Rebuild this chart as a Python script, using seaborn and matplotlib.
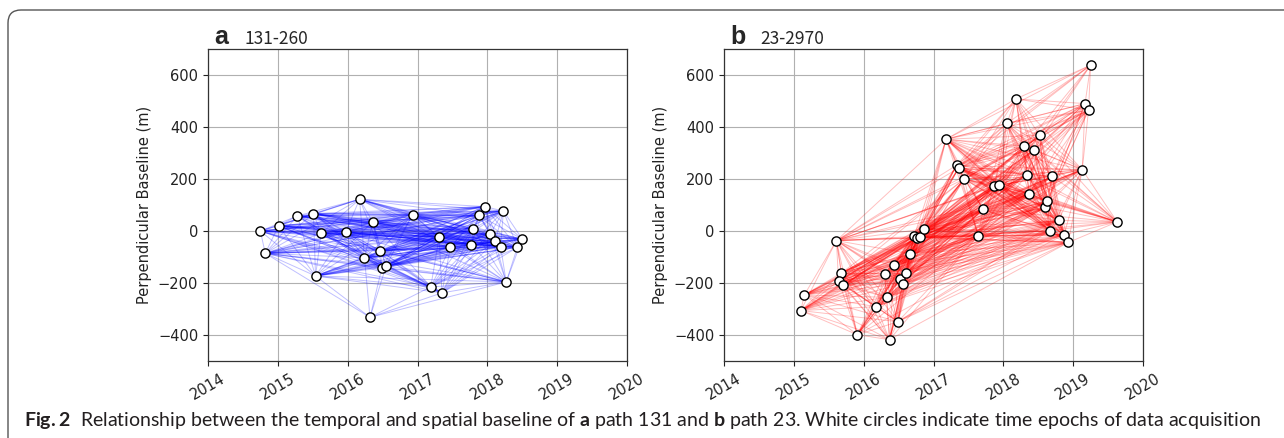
import numpy as np
import pandas as pd
import matplotlib
matplotlib.use("Agg")
import matplotlib.pyplot as plt
import seaborn as sns
from matplotlib.patches import FancyBboxPatch
from matplotlib.transforms import IdentityTransform

# --- acquisition epochs (decimal year, perpendicular baseline m) ---
a_year = [2014.75, 2014.82, 2015.01, 2015.28, 2015.51, 2015.62, 2015.54, 2015.97,
          2016.17, 2016.36, 2016.47, 2016.24, 2016.49, 2016.55, 2016.32, 2016.93,
          2017.31, 2017.47, 2017.19, 2017.35, 2017.77, 2017.80, 2017.88, 2017.96,
          2018.23, 2018.04, 2018.11, 2018.19, 2018.27, 2018.43, 2018.50]
a_bperp = [0, -86, 20, 58, 67, -9, -173, -5,
           122, 35, -76, -103, -142, -135, -332, 63,
           -23, -63, -215, -238, -53, 8, 60, 94,
           77, -12, -40, -60, -196, -63, -31]

b_year = [2015.10, 2015.15, 2015.61, 2015.68, 2015.64, 2015.71, 2015.91, 2016.18,
          2016.30, 2016.33, 2016.44, 2016.49, 2016.37, 2016.52, 2016.56, 2016.60,
          2016.67, 2016.72, 2016.76, 2016.80, 2016.87, 2017.18, 2017.33, 2017.36,
          2017.44, 2017.64, 2017.71, 2017.87, 2017.94, 2018.05, 2018.18, 2018.30,
          2018.44, 2018.52, 2018.34, 2018.37, 2018.60, 2018.63, 2018.70, 2018.67,
          2018.79, 2018.87, 2018.93, 2019.13, 2019.17, 2019.22, 2019.25, 2019.63]
b_bperp = [-306, -246, -37, -162, -192, -209, -399, -291,
           -164, -255, -129, -349, -418, -186, -203, -162,
           -87, -21, -27, -24, 8, 353, 253, 242,
           200, -18, 83, 173, 176, 414, 508, 326,
           313, 368, 217, 144, 91, 115, 210, 1,
           41, -14, -44, 236, 490, 465, 638, 35]

# network thresholds (max temporal / spatial baseline of a pair)
a_tmax, a_bmax = 3.5, 250
b_tmax, b_bmax = 2.8, 400

titles = [("a", "131-260"), ("b", "23-2970")]
caption = (r"$\mathbf{Fig. 2}$  Relationship between the temporal and spatial baseline of "
           r"$\mathbf{a}$ path 131 and $\mathbf{b}$ path 23. White circles indicate time "
           r"epochs of data acquisition")


def make_edges(years, bperp, tmax, bmax):
    rows = []
    k = 0
    n = len(years)
    for i in range(n):
        for j in range(i + 1, n):
            if abs(years[i] - years[j]) <= tmax and abs(bperp[i] - bperp[j]) <= bmax:
                rows.append((k, years[i], bperp[i]))
                rows.append((k, years[j], bperp[j]))
                k += 1
    return pd.DataFrame(rows, columns=["pair", "year", "bperp"])


sns.set_theme(style="ticks")
plt.rcParams["mathtext.fontset"] = "custom"
plt.rcParams["mathtext.rm"] = "Lato"
plt.rcParams["mathtext.bf"] = "Lato:bold"
plt.rcParams["font.family"] = ["DejaVu Sans"]

W, H = 1284, 438
fig = plt.figure(figsize=(W / 100, H / 100), dpi=100)

panels = [
    (a_year, a_bperp, a_tmax, a_bmax, "#0000ff", 208),
    (b_year, b_bperp, b_tmax, b_bmax, "#ff0000", 724),
]

for (years, bperp, tmax, bmax, col, left_px), (letter, sub) in zip(panels, titles):
    ax = fig.add_axes([left_px / W, (H - 361) / H, 419 / W, 312 / H])
    edges = make_edges(years, bperp, tmax, bmax)
    sns.lineplot(data=edges, x="year", y="bperp", units="pair", estimator=None,
                 sort=False, color=col, alpha=0.25, lw=0.7, ax=ax, zorder=2)
    pts = pd.DataFrame({"year": years, "bperp": bperp})
    sns.scatterplot(data=pts, x="year", y="bperp", s=44, color="white",
                    edgecolor="black", linewidth=1.0, ax=ax, zorder=3)
    ax.set_xlim(2014, 2020)
    ax.set_ylim(-500, 700)
    ax.set_xticks(range(2014, 2021))
    ax.set_xticklabels([str(y) for y in range(2014, 2021)], rotation=30)
    ax.set_yticks(range(-400, 601, 200))
    ax.grid(True, color="#b0b0b0", lw=0.8)
    ax.set_axisbelow(True)
    ax.set_xlabel("")
    ax.set_ylabel("Perpendicular Baseline (m)", fontsize=10.5, color="#222222")
    ax.tick_params(labelsize=10.5, colors="#222222", length=3.5, width=0.8)
    for s in ax.spines.values():
        s.set_color("#333333")
        s.set_linewidth(0.9)

    fig.text((left_px + 6) / W, (H - 44) / H, letter, fontsize=18, fontweight="bold",
             family=["Liberation Sans"], va="baseline", ha="left")
    fig.text((left_px + 36) / W, (H - 44) / H, sub, fontsize=12.5,
             family=["Noto Sans CJK JP", "DejaVu Sans"], va="baseline", ha="left")

# rounded figure frame (top and left visible)
frame = FancyBboxPatch((8, -30), 1400, H - 10 + 30, boxstyle="round,pad=0,rounding_size=13",
                       transform=IdentityTransform(), fill=False, edgecolor="#555555",
                       lw=1.0, clip_on=False)
fig.patches.append(frame)

# caption, scaled to the width it covers in the reference
cap = fig.text(24 / W, (H - 426) / H, caption, fontsize=13, family=["Lato"],
               color="#231f20", va="baseline", ha="left")
r = fig.canvas.get_renderer()
w = cap.get_window_extent(r).width
cap.set_fontsize(13 * 1234 / w)

fig.savefig("out.png", dpi=100)
